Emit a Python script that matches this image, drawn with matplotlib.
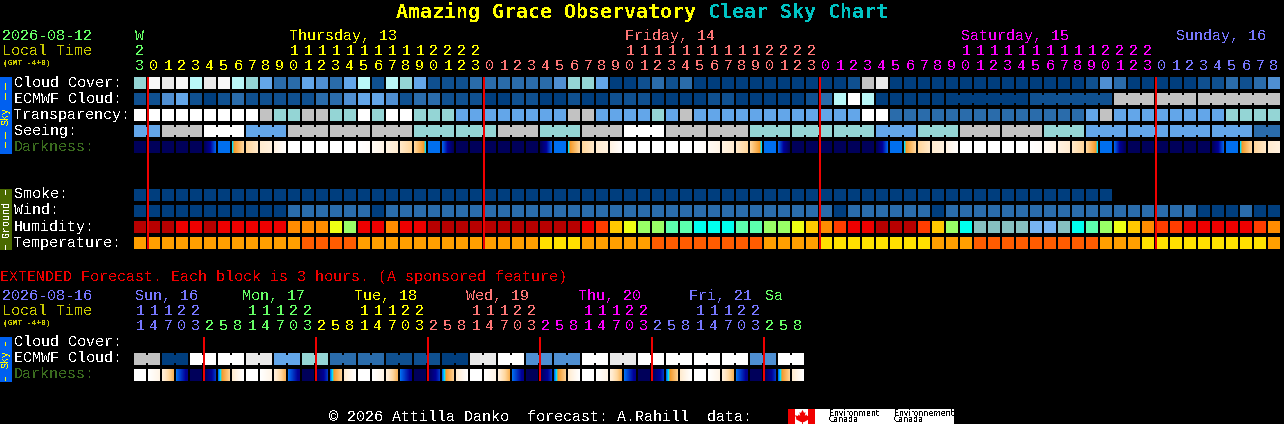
"""Amazing Grace Observatory clear sky chart."""
import matplotlib
matplotlib.use("Agg")
import matplotlib.pyplot as plt
import numpy as np
from matplotlib.colors import LinearSegmentedColormap

plt.rcParams["text.antialiased"] = False

MONO = "Liberation Mono"
BLOCK = 12
PITCH = 14
X0 = 134

GREEN = "#66FF66"
YELLOW = "#FFFF00"
SALMON = "#FF7777"
MAGENTA = "#FF00FF"
PERI = "#7777FF"
OLIVE = "#C8C800"
DARK_GREEN = "#3A6B1E"
LINE_RED = "#F00000"

# blue / grey scale shared by the sky rows, index 0 (dark) to 10 (white)
sky_colors = ["#003E7E", "#0F5090", "#2A6CAB", "#4F8FD2", "#63A6E9", "#94D5D5",
              "#B9F7F7", "#C2C2C2", "#E9E9E9", "#F7F7F7", "#FFFFFF"]
humidity_colors = ["#77B3F2", "#86C0C0", "#00FFEE", "#5CFFAE", "#99FF66", "#EEFF14",
                   "#FFC800", "#FF8C00", "#FF3D00", "#EE0000", "#B80000"]
temp_colors = ["#FF5C00", "#FF9F00", "#FFE000"]

cloud_cover = [5, 9, 8, 9, 6, 8, 9, 6, 5, 4,
               2, 2, 4, 3, 2, 4, 6, 1, 6, 5,
               4, 1, 1, 1, 2, 2, 2, 2, 2, 2,
               3, 5, 5, 4, 0, 0, 1, 2, 1, 2,
               0, 0, 0, 0, 0, 0, 0, 0, 0, 0,
               0, 1, 7, 8, 0, 0, 0, 0, 0, 0,
               0, 0, 0, 0, 0, 0, 0, 0, 1, 3,
               2, 0, 0, 0, 0, 0, 1, 1, 2, 1,
               2, 3]
# one value per joined group, the last five groups span several hours
ecmwf_cloud = [1, 1, 3, 4, 1, 0, 1, 2, 1, 1,
               1, 1, 1, 2, 2, 3, 4, 4, 3, 1,
               2, 2, 1, 1, 1, 0, 0, 1, 1, 0,
               0, 1, 0, 0, 1, 1, 1, 0, 0, 0,
               0, 1, 1, 0, 0, 0, 0, 0, 1, 2,
               6, 10, 6, 0, 0, 0, 0, 0,
               0, 1, 7, 7, 7]
ecmwf_spans = [1] * 58 + [6, 6, 3, 3, 6]
transparency = [10, 10, 10, 10, 10, 10, 10, 10, 10, 7,
                5, 5, 7, 7, 5, 5, 10, 5, 10, 10,
                5, 5, 5, 4, 4, 4, 4, 4, 4, 4,
                4, 7, 7, 4, 4, 4, 4, 5, 4, 7,
                4, 4, 4, 4, 4, 4, 4, 4, 4, 4,
                4, 4, 10, 10, 2, 2, 2, 2, 2, 2,
                2, 2, 2, 2, 2, 2, 2, 2, 4, 7,
                4, 4, 4, 4, 4, 4, 4, 4, 5, 5,
                5, 5]
seeing = [4, 7, 10, 4, 7, 7, 7, 5, 5, 7, 5, 7, 10, 7,
          7, 5, 5, 5, 4, 5, 7, 7, 5, 4, 4, 4, 4, 2]
seeing_spans = [2] + [3] * 26 + [2]
smoke = [0] * 70
wind = [0, 0, 0, 0, 0, 0, 0, 0, 0, 0,
        0, 2, 2, 2, 2, 2, 2, 0, 2, 2,
        2, 2, 2, 2, 2, 2, 2, 2, 2, 2,
        2, 2, 2, 2, 2, 2, 2, 2, 2, 2,
        2, 2, 2, 2, 2, 2, 2, 2, 2, 2,
        0, 2, 2, 2, 2, 2, 2, 0, 2, 2,
        2, 2, 2, 2, 2, 2, 2, 2, 2, 2,
        2, 2, 2, 2, 2, 2, 0, 0, 0, 2,
        0, 0]
humidity = [10, 10, 10, 9, 9, 10, 9, 9, 9, 9,
            9, 7, 7, 7, 5, 4, 9, 9, 7, 9,
            9, 10, 10, 10, 10, 10, 10, 10, 10, 10,
            10, 10, 9, 8, 6, 5, 4, 4, 3, 3,
            2, 2, 2, 3, 3, 4, 4, 5, 6, 7,
            8, 9, 9, 10, 10, 10, 8, 6, 4, 2,
            1, 1, 1, 1, 0, 0, 1, 2, 3, 4,
            5, 6, 7, 8, 8, 9, 9, 9, 9, 9,
            8, 7]
temperature = [1, 1, 1, 1, 1, 1, 1, 1, 1, 1,
               1, 1, 0, 0, 0, 0, 1, 1, 1, 1,
               1, 1, 1, 1, 1, 1, 1, 1, 1, 2,
               2, 2, 1, 1, 1, 1, 1, 0, 0, 0,
               0, 0, 0, 0, 0, 1, 1, 1, 1, 2,
               2, 2, 2, 2, 2, 2, 2, 1, 1, 1,
               0, 0, 0, 0, 0, 0, 0, 0, 0, 1,
               1, 1, 2, 2, 2, 2, 2, 2, 2, 2,
               2, 1]

# darkness runs 0 (night) to 5 (day), each block fades from its start to its end value
dark_start = [0, 0, 0, 0, 0,
              0, 2, 2.2, 3.2, 3.8, 4.2, 5, 5, 5, 5, 5, 5, 4.7, 4.2, 3.7, 3.2, 2, 1.9, 0, 0, 0, 0, 0, 0,
              0, 2, 2.2, 3.2, 3.8, 4.2, 5, 5, 5, 5, 5, 5, 4.7, 4.2, 3.7, 3.2, 2, 1.9, 0, 0, 0, 0, 0, 0,
              0, 2, 2.2, 3.2, 3.8, 4.2, 5, 5, 5, 5, 5, 5, 4.7, 4.2, 3.7, 3.2, 2, 1.9, 0, 0, 0, 0, 0, 0,
              0, 2, 2.2, 3.2, 3.8]
dark_end = [0, 0, 0, 0, 0,
            1.9, 2, 3.2, 3.7, 4.1, 4.9, 5, 5, 5, 5, 5, 4.8, 4.3, 3.8, 3.2, 2.2, 2, 0, 0, 0, 0, 0, 0, 0,
            1.9, 2, 3.2, 3.7, 4.1, 4.9, 5, 5, 5, 5, 5, 4.8, 4.3, 3.8, 3.2, 2.2, 2, 0, 0, 0, 0, 0, 0, 0,
            1.9, 2, 3.2, 3.7, 4.1, 4.9, 5, 5, 5, 5, 5, 4.8, 4.3, 3.8, 3.2, 2.2, 2, 0, 0, 0, 0, 0, 0, 0,
            1.9, 2, 3.2, 3.7, 4.1]
dark_stops = [(0, "#00005A"), (1, "#000098"), (1.9, "#0060E8"), (2, "#0070F0"),
              (2.2, "#00E0FF"), (2.35, "#F59A28"), (3.2, "#FFD69C"), (3.8, "#FFEBD0"),
              (4.4, "#FFF6EA"), (5, "#FFFFFF")]

hour_tens = ("2" + "          11111111112222" + "          11111111112222"
             + "          11111111112222" + "         ")
hour_ones = "3012345678901234567890123" "012345678901234567890123" "012345678901234567890123" "012345678"
hour_colors = [GREEN] + [YELLOW] * 24 + [SALMON] * 24 + [MAGENTA] * 24 + [PERI] * 9
day_labels = ["W", "Thursday, 13", "Friday, 14", "Saturday, 15", "Sunday, 16"]
day_label_colors = [GREEN, YELLOW, SALMON, MAGENTA, PERI]
day_label_x = [135, 289, 625, 961, 1176]
day_lines = [1, 25, 49, 73]

# extended forecast, 3 hours per block
ext_cloud = [7, 0, 10, 10, 8, 4, 5, 2, 2, 1, 1, 0,
             8, 10, 3, 3, 10, 8, 10, 10, 10, 10, 3, 10]
ext_spans = [2] * 24
ext_dark_start = [5, 5, 4, 2, 0, 0, 2, 3.8,
                  5, 5, 4, 2, 0, 0, 2, 3.8,
                  5, 5, 4, 2, 0, 0, 2, 3.8,
                  5, 5, 4, 2, 0, 0, 2, 3.8,
                  5, 5, 4, 2, 0, 0, 2, 3.8,
                  5, 5, 4, 2, 0, 0, 2, 3.8]
ext_dark_end = [5, 4.3, 2.7, 0.8, 0, 1.5, 3.1, 5,
                5, 4.3, 2.7, 0.8, 0, 1.5, 3.1, 5,
                5, 4.3, 2.7, 0.8, 0, 1.5, 3.1, 5,
                5, 4.3, 2.7, 0.8, 0, 1.5, 3.1, 5,
                5, 4.3, 2.7, 0.8, 0, 1.5, 3.1, 5,
                5, 4.3, 2.7, 0.8, 0, 1.5, 3.1, 5]
ext_tens = "11122   " "11122   " "11122   " "11122   " "11122   " "11122   "
ext_ones = "14703258" "14703258" "14703258" "14703258" "14703258" "14703258"
ext_hour_colors = [PERI] * 5 + [GREEN] * 8 + [YELLOW] * 8 + [SALMON] * 8 + [MAGENTA] * 8 + [PERI] * 8 + [GREEN] * 3
ext_day_labels = ["Sun, 16", "Mon, 17", "Tue, 18", "Wed, 19", "Thu, 20", "Fri, 21", "Sa"]
ext_label_colors = [PERI, GREEN, YELLOW, SALMON, MAGENTA, PERI, GREEN]
ext_label_x = [135, 242, 354, 466, 578, 689, 765]
ext_lines = [5, 13, 21, 29, 37, 45]

# outline of the leaf on the flag, used as a custom marker
leaf_outline = [(0, 5), (-1, 3), (-2, 3.5), (-1.5, 1), (-2.5, 2), (-3, 1), (-5, 1.5), (-4, -0.5),
                (-4.5, -1), (-1, -3), (-0.3, -3), (-0.3, -5), (0.3, -5), (0.3, -3), (1, -3),
                (4.5, -1), (4, -0.5), (5, 1.5), (3, 1), (2.5, 2), (1.5, 1), (2, 3.5), (1, 3)]


def px(size):
    """Font size in points for a size in pixels."""
    return size * 72 / 100


def col_x(col):
    return X0 + PITCH * col


def label(ax, x, y, s, color="white", size=15, **kw):
    ax.text(x, y, s, color=color, fontsize=px(size), family=MONO, va="baseline", **kw)


def box(ax, x, y, w, h, color, zorder=2):
    ax.bar(x, h, w, bottom=y, color=color, align="edge", antialiased=False, linewidth=0, zorder=zorder)


def draw_row(ax, values, palette, y, spans=None):
    """Draw one row of blocks, spans joins neighbouring blocks of one value."""
    if spans is None:
        spans = [1] * len(values)
    col = 0
    for value, span in zip(values, spans):
        color = palette[value]
        for i in range(span):
            box(ax, col_x(col + i), y, BLOCK, BLOCK, color)
            if i < span - 1:
                box(ax, col_x(col + i) + BLOCK, y + 2, PITCH - BLOCK, BLOCK - 4, color)
        col += span


def draw_darkness(ax, starts, ends, y, cmap):
    for col, (a, b) in enumerate(zip(starts, ends)):
        fade = np.linspace(a, b, BLOCK)[None, :]
        ax.imshow(fade, cmap=cmap, vmin=0, vmax=5, aspect="auto", interpolation="nearest",
                  extent=(col_x(col), col_x(col) + BLOCK, y + BLOCK, y), zorder=2)


def draw_hours(ax, tens, ones, colors, y_tens, y_ones):
    for col, (t, o, c) in enumerate(zip(tens, ones, colors)):
        cx = col_x(col) + BLOCK / 2
        if t != " ":
            label(ax, cx, y_tens, t, color=c, ha="center")
        label(ax, cx, y_ones, o, color=c, ha="center")


def side_bar(ax, y, h, color, s, text_y, text_color, dashes):
    box(ax, 0, y, BLOCK, h, color)
    ax.text(6, text_y, s, color=text_color, fontsize=px(10), family=MONO, rotation=90,
            ha="center", va="center", zorder=3)
    for top, bottom in dashes:
        box(ax, 5, top, 1, bottom - top, text_color, zorder=3)


fig = plt.figure(figsize=(12.84, 4.24), dpi=100, facecolor="black")
ax = fig.add_axes([0, 0, 1, 1])
ax.set_xlim(0, 1284)
ax.set_ylim(424, 0)
ax.set_autoscale_on(False)
ax.axis("off")

dark_cmap = LinearSegmentedColormap.from_list("darkness", [(v / 5, c) for v, c in dark_stops], N=512)

# title
ax.text(396, 18.5, "Amazing Grace Observatory", color=YELLOW, fontsize=px(20), family="DejaVu Sans Mono",
        weight="bold", va="baseline")
ax.text(708, 18.5, "Clear Sky Chart", color="#00C4C4", fontsize=px(20), family="DejaVu Sans Mono",
        weight="bold", va="baseline")

# header of the hourly chart
label(ax, 2, 40, "2026-08-12", color=GREEN)
label(ax, 2, 55, "Local Time", color=OLIVE)
label(ax, 3, 65, "(GMT -4+0)", color=OLIVE, size=8, weight="bold")
for s, c, x in zip(day_labels, day_label_colors, day_label_x):
    label(ax, x, 40, s, color=c)
draw_hours(ax, hour_tens, hour_ones, hour_colors, 55, 70)

# sky rows
side_bar(ax, 77, 77, "#0060F0", "Sky", 116, YELLOW, [(83, 90), (93, 100), (132, 139), (142, 148)])
sky_rows = [("Cloud Cover:", "white"), ("ECMWF Cloud:", "white"), ("Transparency:", "white"),
            ("Seeing:", "white"), ("Darkness:", DARK_GREEN)]
for i, (s, c) in enumerate(sky_rows):
    label(ax, 14, 87 + 16 * i, s, color=c)
draw_row(ax, cloud_cover, sky_colors, 77)
draw_row(ax, ecmwf_cloud, sky_colors, 93, ecmwf_spans)
draw_row(ax, transparency, sky_colors, 109)
draw_row(ax, seeing, sky_colors, 125, seeing_spans)
draw_darkness(ax, dark_start, dark_end, 141, dark_cmap)

# ground rows
side_bar(ax, 189, 61, "#4A6A00", "Ground", 219, "white", [(190, 195), (245, 250)])
for i, s in enumerate(["Smoke:", "Wind:", "Humidity:", "Temperature:"]):
    label(ax, 14, 198.5 + 16 * i, s)
draw_row(ax, smoke, sky_colors, 189)
draw_row(ax, wind, sky_colors, 205)
draw_row(ax, humidity, humidity_colors, 221)
draw_row(ax, temperature, temp_colors, 237)

for col in day_lines:
    box(ax, col_x(col) - 1, 77, 2, 172, LINE_RED, zorder=4)

# extended forecast
label(ax, 0, 281, "EXTENDED Forecast. Each block is 3 hours. (A sponsored feature)", color="#F00000")
label(ax, 2, 300, "2026-08-16", color=PERI)
label(ax, 2, 315, "Local Time", color=OLIVE)
label(ax, 3, 325, "(GMT -4+0)", color=OLIVE, size=8, weight="bold")
for s, c, x in zip(ext_day_labels, ext_label_colors, ext_label_x):
    label(ax, x, 300, s, color=c)
draw_hours(ax, ext_tens, ext_ones, ext_hour_colors, 315, 330)

side_bar(ax, 337, 45, "#0060F0", "Sky", 359.5, YELLOW, [(342, 346), (377, 381)])
ext_rows = [("Cloud Cover:", "white"), ("ECMWF Cloud:", "white"), ("Darkness:", DARK_GREEN)]
for i, (s, c) in enumerate(ext_rows):
    label(ax, 14, 346 + 16 * i, s, color=c)
draw_row(ax, ext_cloud, sky_colors, 353, ext_spans)
draw_darkness(ax, ext_dark_start, ext_dark_end, 369, dark_cmap)
for col in ext_lines:
    box(ax, col_x(col) - 1, 337, 2, 44, LINE_RED, zorder=4)

# footer with the Environment Canada mark
label(ax, 329, 421, "\u00a9 2026 Attilla Danko  forecast: A.Rahill  data:")
box(ax, 788, 409, 166, 15, "white")
box(ax, 788, 409, 7, 15, "#F00000", zorder=3)
box(ax, 808, 409, 7, 15, "#F00000", zorder=3)
ax.plot([801.5], [416.5], marker=leaf_outline, ms=11, color="#F00000", mew=0, zorder=3)
for x, s in [(829, "Environment"), (894, "Environnement")]:
    ax.text(x, 415.5, s, color="black", fontsize=px(7.8), family="DejaVu Sans", va="baseline", zorder=3)
    ax.text(x, 422, "Canada", color="black", fontsize=px(7.8), family="DejaVu Sans", va="baseline", zorder=3)

fig.savefig("out.png", dpi=100, facecolor="black")
